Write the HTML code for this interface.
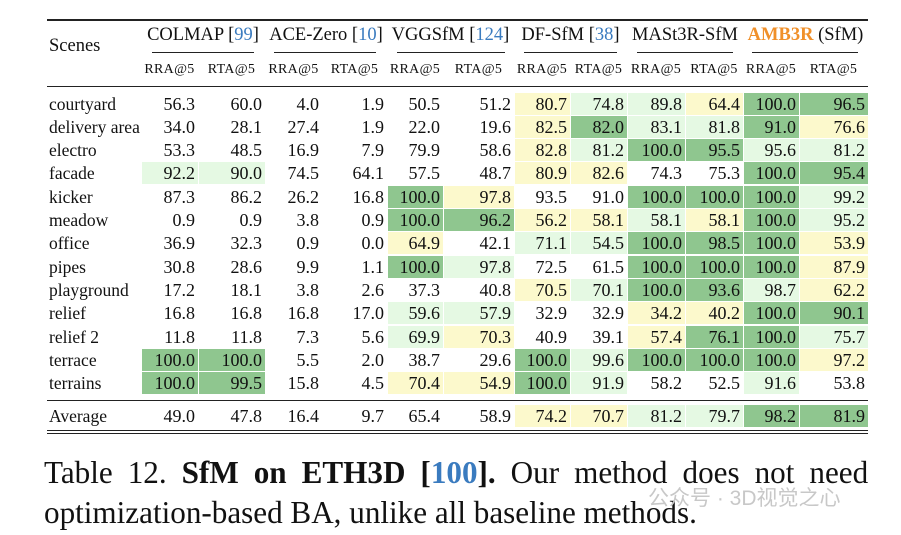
<!DOCTYPE html>
<html><head><meta charset="utf-8"><style>
body{margin:0;width:901px;height:535px;background:#fff;position:relative;overflow:hidden;font-family:"Liberation Serif",serif;color:#111}
.a{position:absolute}
.rule{position:absolute;background:#222}
.cell{position:absolute;height:22px;line-height:22px;font-size:18px;text-align:right;box-sizing:border-box;padding-right:3px}
.D{background:#8fc68f}.L{background:#e5f9e3}.Y{background:#fcf9cc}
.sc{position:absolute;font-size:17.5px;left:49px;line-height:22px}
.sub{position:absolute;font-size:14px;top:62px;text-align:center;letter-spacing:0.3px}
.grp{position:absolute;font-size:18.5px;top:25px;text-align:center;white-space:nowrap}
.ref{color:#3a7bbf}
.cap{position:absolute;left:44px;font-size:32px;line-height:36px;white-space:nowrap;transform:scaleX(0.973);transform-origin:0 0}
</style></head><body>
<div class="rule" style="left:47px;top:19px;width:821px;height:1.5px"></div>
<div class="a" style="left:49px;top:36px;font-size:18.5px">Scenes</div>
<div id="hdr"></div>
<div class="rule" style="left:47px;top:86px;width:821px;height:1px"></div>
<div id="body"></div>
<div class="rule" style="left:47px;top:400px;width:821px;height:1px"></div>
<div class="rule" style="left:47px;top:430px;width:821px;height:1px"></div>
<div class="rule" style="left:47px;top:433px;width:821px;height:1px"></div>
<div class="cap" style="top:454px;width:847px;text-align:justify;text-align-last:justify;white-space:normal">Table 12. <b>SfM on ETH3D [<span class="ref">100</span>].</b> Our method does not need</div>
<div class="cap" style="top:494px">optimization-based BA, unlike all baseline methods.</div>
<div class="a" style="left:648px;top:482px;font-size:21px;color:#c8c8c8;font-family:'Liberation Sans','Noto Sans CJK SC',sans-serif">公众号 · 3D视觉之心</div>
<script>
const groups=[["COLMAP ",'99'],["ACE-Zero ",'10'],["VGGSfM ",'124'],["DF-SfM ",'38'],["MASt3R-SfM",''],["AMB3R",'(SfM)']];
const colX=[141,198,265,322,387,443,514,570,627,685,743,799,868];
const groupLines=[[152,254],[274,376],[397,505],[524,617],[637,733],[752,858]];
const scenes=["courtyard","delivery area","electro","facade","kicker","meadow","office","pipes","playground","relief","relief 2","terrace","terrains"];
const values=[
[56.3,60.0,4.0,1.9,50.5,51.2,80.7,74.8,89.8,64.4,100.0,96.5],
[34.0,28.1,27.4,1.9,22.0,19.6,82.5,82.0,83.1,81.8,91.0,76.6],
[53.3,48.5,16.9,7.9,79.9,58.6,82.8,81.2,100.0,95.5,95.6,81.2],
[92.2,90.0,74.5,64.1,57.5,48.7,80.9,82.6,74.3,75.3,100.0,95.4],
[87.3,86.2,26.2,16.8,100.0,97.8,93.5,91.0,100.0,100.0,100.0,99.2],
[0.9,0.9,3.8,0.9,100.0,96.2,56.2,58.1,58.1,58.1,100.0,95.2],
[36.9,32.3,0.9,0.0,64.9,42.1,71.1,54.5,100.0,98.5,100.0,53.9],
[30.8,28.6,9.9,1.1,100.0,97.8,72.5,61.5,100.0,100.0,100.0,87.9],
[17.2,18.1,3.8,2.6,37.3,40.8,70.5,70.1,100.0,93.6,98.7,62.2],
[16.8,16.8,16.8,17.0,59.6,57.9,32.9,32.9,34.2,40.2,100.0,90.1],
[11.8,11.8,7.3,5.6,69.9,70.3,40.9,39.1,57.4,76.1,100.0,75.7],
[100.0,100.0,5.5,2.0,38.7,29.6,100.0,99.6,100.0,100.0,100.0,97.2],
[100.0,99.5,15.8,4.5,70.4,54.9,100.0,91.9,58.2,52.5,91.6,53.8]];
const shades=["------YLLYDD","------YDLLDY","------YLDDLL","LL----YY--DD","----DY--DDDL","----DDYYLYDL","----Y-LLDDDY","----DL--DDDY","------YLDDLY","----LL--YYDD","----LY--YDDL","DD----DLDDDY","DD--YYDL--L-"];
const average=[49.0,47.8,16.4,9.7,65.4,58.9,74.2,70.7,81.2,79.7,98.2,81.9];
const avgShade="------YYLLDD";
const hdr=document.getElementById('hdr'), body=document.getElementById('body');
groups.forEach((g,i)=>{
  const d=document.createElement('div');d.className='grp';
  
  
  const x0=colX[2*i],x1=colX[2*i+2];
  d.style.left=(x0-10)+'px';d.style.width=(x1-x0+20)+'px';
  if(i==5) d.innerHTML='<b style="color:#f0902a">AMB3R</b> (SfM)';
  else d.innerHTML=g[0]+(g[1]?'[<span class="ref">'+g[1]+'</span>]':'');
  hdr.appendChild(d);
  const l=document.createElement('div');l.className='rule';
  
  
  l.style.left=groupLines[i][0]+'px';l.style.width=(groupLines[i][1]-groupLines[i][0])+'px';l.style.top='52px';l.style.height='1px';
  hdr.appendChild(l);
  ['RRA@5','RTA@5'].forEach((t,k)=>{
    const s=document.createElement('div');s.className='sub';
    
    
    const a=colX[2*i+k],b=colX[2*i+k+1];
    s.style.left=a+'px';s.style.width=(b-a)+'px';s.textContent=t;hdr.appendChild(s);
  });
});
function row(name,vals,sh,yc,key){
  const s=document.createElement('div');s.className='sc';
  
  
  s.style.top=(yc-11)+'px';s.textContent=name;body.appendChild(s);
  vals.forEach((v,j)=>{
    const c=document.createElement('div');
    c.className='cell '+(sh[j]!='-'?sh[j]:'');
    
    
    c.style.left=(colX[j]+1)+'px';c.style.width=(colX[j+1]-colX[j]-1)+'px';
    c.style.top=(yc-11)+'px';c.textContent=v.toFixed(1);body.appendChild(c);
  });
}
scenes.forEach((n,i)=>row(n,values[i],shades[i],103.5+i*23.33,n.replace(' ','-')));
row("Average",average,avgShade,416,'average');
</script>
</body></html>
